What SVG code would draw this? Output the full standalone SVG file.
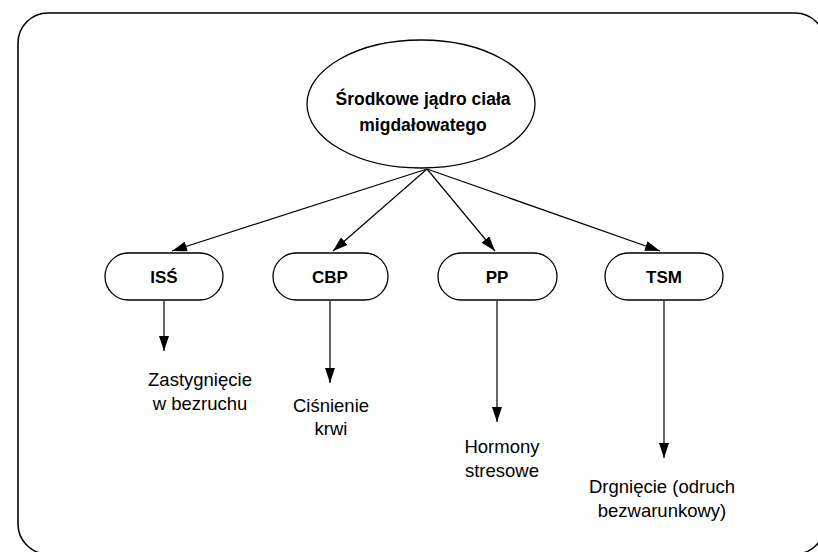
<svg xmlns="http://www.w3.org/2000/svg" width="818" height="552" viewBox="0 0 818 552">
<defs>
<style>
.frame{fill:none;stroke:#000;stroke-width:1.6}
.shape{fill:#fff;stroke:#000;stroke-width:1.3}
.edge{fill:none;stroke:#000;stroke-width:1.2}
.bt{font-family:"Liberation Sans",Arial,sans-serif;font-weight:bold;font-size:17.5px;text-anchor:middle;fill:#000}
.nt{font-family:"Liberation Sans",Arial,sans-serif;font-weight:bold;font-size:17px;text-anchor:middle;fill:#000}
.lt{font-family:"Liberation Sans",Arial,sans-serif;font-size:18.5px;text-anchor:middle;fill:#000}
</style>
<marker id="ah" markerUnits="userSpaceOnUse" markerWidth="15" markerHeight="10" refX="15" refY="5" orient="auto">
<path d="M0,0 L15,5 L0,10 z" fill="#000"/>
</marker>
</defs>
<rect width="818" height="552" fill="#fff"/>
<rect class="frame" x="18" y="13" width="807" height="541" rx="30"/>
<g id="edges">
<line class="edge" x1="427" y1="169" x2="172" y2="251" marker-end="url(#ah)"/>
<line class="edge" x1="427" y1="169" x2="333" y2="251" marker-end="url(#ah)"/>
<line class="edge" x1="427" y1="169" x2="495" y2="251" marker-end="url(#ah)"/>
<line class="edge" x1="427" y1="169" x2="660" y2="251" marker-end="url(#ah)"/>
<line class="edge" x1="164" y1="301" x2="164" y2="351" marker-end="url(#ah)"/>
<line class="edge" x1="330" y1="301" x2="330" y2="383" marker-end="url(#ah)"/>
<line class="edge" x1="497" y1="301" x2="497" y2="422" marker-end="url(#ah)"/>
<line class="edge" x1="664" y1="301" x2="664" y2="458" marker-end="url(#ah)"/>
</g>
<g id="amygdala">
<ellipse class="shape" cx="421" cy="104" rx="114" ry="64"/>
<text class="bt" x="423" y="105">Środkowe jądro ciała</text>
<text class="bt" x="423" y="131">migdałowatego</text>
</g>
<g id="iss">
<rect class="shape" x="105" y="253" width="118" height="47" rx="23.5"/>
<text class="nt" x="164" y="283">ISŚ</text>
</g>
<g id="cbp">
<rect class="shape" x="273" y="253" width="115" height="47" rx="23.5"/>
<text class="nt" x="330" y="283">CBP</text>
</g>
<g id="pp">
<rect class="shape" x="438" y="253" width="119" height="47" rx="23.5"/>
<text class="nt" x="497" y="283">PP</text>
</g>
<g id="tsm">
<rect class="shape" x="605" y="253" width="118" height="47" rx="23.5"/>
<text class="nt" x="664" y="283">TSM</text>
</g>
<g id="label-iss">
<text class="lt" x="200" y="386">Zastygnięcie</text>
<text class="lt" x="200" y="410">w bezruchu</text>
</g>
<g id="label-cbp">
<text class="lt" x="331" y="412">Ciśnienie</text>
<text class="lt" x="331" y="435">krwi</text>
</g>
<g id="label-pp">
<text class="lt" x="502" y="453">Hormony</text>
<text class="lt" x="502" y="477">stresowe</text>
</g>
<g id="label-tsm">
<text class="lt" x="662" y="493">Drgnięcie (odruch</text>
<text class="lt" x="662" y="517">bezwarunkowy)</text>
</g>
</svg>
